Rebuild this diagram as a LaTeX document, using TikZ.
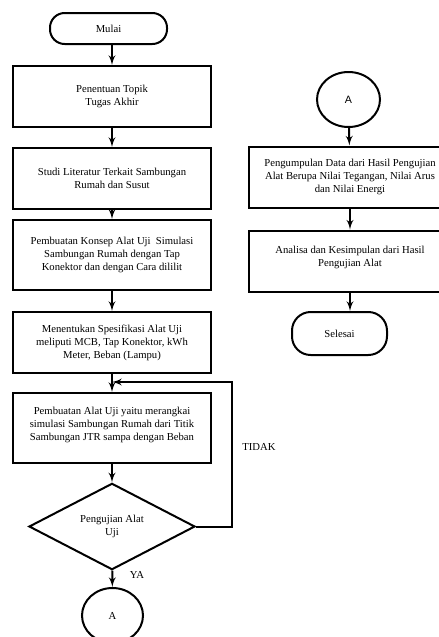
\documentclass[tikz,border=0pt]{standalone}
\usepackage{fontspec}
\setmainfont{Liberation Serif}
\newfontfamily\arialfont{Liberation Sans}
\usetikzlibrary{arrows,positioning,shapes.geometric}

\tikzset{
	proses/.style={draw, line width=1.5pt, minimum width=148.5pt, minimum height=45.75pt,
		align=center, inner sep=2pt, font=\fontsize{8}{9.75}\selectfont},
	terminal/.style={draw, line width=1.5pt, rounded corners=11pt, align=center,
		font=\fontsize{8}{9.75}\selectfont},
	keputusan/.style={draw, diamond, line width=1.5pt, inner sep=0pt, minimum width=124.5pt,
		minimum height=60.75pt, align=center, font=\fontsize{8}{9.75}\selectfont},
	konektor/.style={draw, ellipse, line width=1.5pt, inner sep=0pt, font=\fontsize{8}{9.75}\selectfont},
	alur/.style={->, >=latex', line width=1.5pt},
	ket/.style={font=\fontsize{8}{9.75}\selectfont}
}

\begin{document}
\begin{tikzpicture}[x=0.75pt, y=-0.75pt]
	\useasboundingbox (0,0) rectangle (439,637);
	% kolom kiri
	\node[terminal, minimum width=87.75pt, minimum height=23.25pt] (mulai) at (108.5,28.5) {Mulai};
	\node[proses] (topik) at (112,96.5) {Penentuan Topik\\Tugas Akhir};
	\node[proses] (studi) at (112,178.5) {Studi Literatur Terkait Sambungan\\Rumah dan Susut};
	\node[proses, minimum height=52.5pt] (konsep) at (112,255) {Pembuatan Konsep Alat Uji~ Simulasi\\Sambungan Rumah dengan Tap\\Konektor dan dengan Cara dililit};
	\node[proses] (spesifikasi) at (112,342.5) {Menentukan Spesifikasi Alat Uji\\meliputi MCB, Tap Konektor, kWh\\Meter, Beban (Lampu)};
	\node[proses, minimum height=52.5pt] (rangkai) at (112,428) {Pembuatan Alat Uji yaitu merangkai\\simulasi Sambungan Rumah dari Titik\\Sambungan JTR sampa dengan Beban\\[-4pt]};
	\node[keputusan] (uji) at (112,526.5) {Pengujian Alat\\Uji};
	\node[konektor, minimum width=45.75pt, minimum height=41.25pt] (a1) at (112.5,615.5) {A};
	% kolom kanan
	\node[konektor, minimum width=47.25pt, minimum height=41.25pt, font=\fontsize{8}{9.75}\arialfont] (a2) at (348.5,99.5) {A};
	\node[proses, minimum width=151.5pt] (pengumpulan) at (350,177) {Pengumpulan Data dari Hasil Pengujian\\Alat Berupa Nilai Tegangan, Nilai Arus\\dan Nilai Energi};
	\node[proses, minimum width=151.5pt] (analisa) at (350,261) {Analisa dan Kesimpulan dari Hasil\\Pengujian Alat\\[-3pt]};
	\node[terminal, minimum width=71.25pt, minimum height=32.25pt, rounded corners=14pt] (selesai) at (339.5,333.5) {Selesai};
	% label
	\node[ket] (ya) at (137,575) {YA};
	\node[ket] (tidak) at (259,447) {TIDAK};
	\coordinate (balik) at (232,382);
	% alur
	\path[alur]
	(mulai.south -| topik.north) edge (topik)
	(topik) edge (studi)
	(studi) edge (konsep)
	(konsep) edge (spesifikasi)
	(spesifikasi) edge (rangkai)
	(rangkai) edge (uji)
	(uji) edge (a1)
	(a2) edge (pengumpulan)
	(pengumpulan) edge (analisa)
	(analisa) edge (selesai.north -| analisa.south);
	\draw[alur] (uji.east) -| (balik) -- (balik -| rangkai.north);
\end{tikzpicture}
\end{document}
